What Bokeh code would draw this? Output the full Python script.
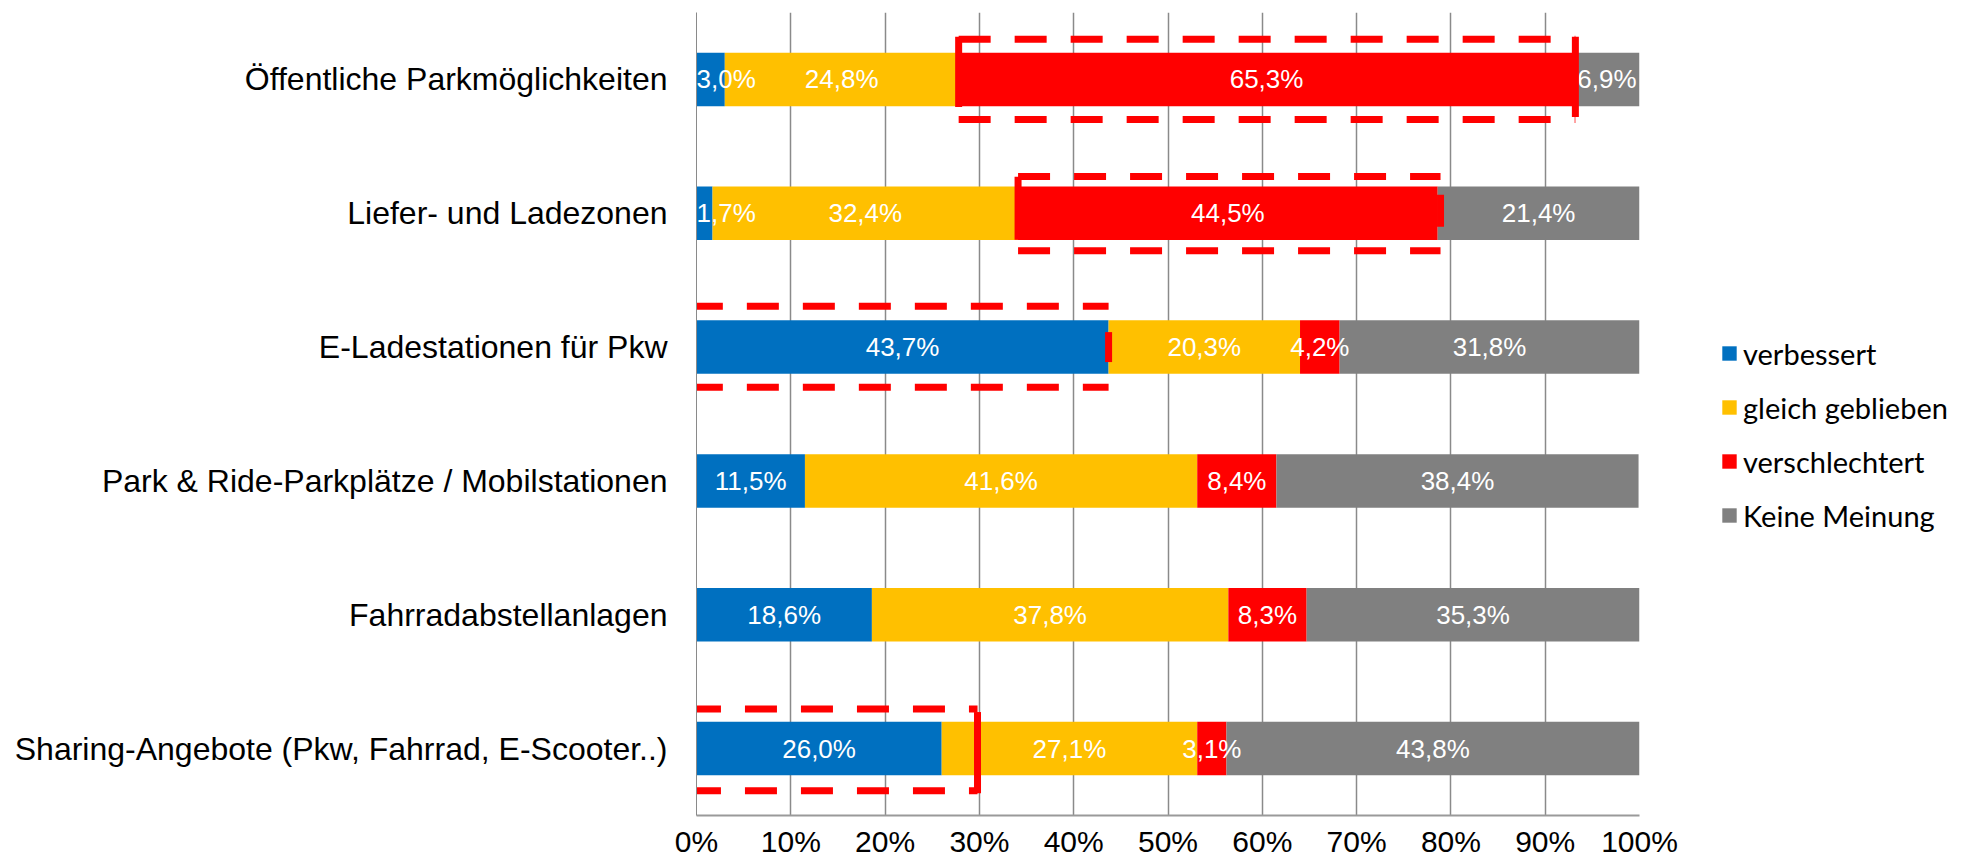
from bokeh.plotting import figure
from bokeh.models import ColumnDataSource, FactorRange, Range1d, Legend, LegendItem, FixedTicker
from bokeh.transform import dodge
from bokeh.core.properties import value
from bokeh.embed import file_html
from bokeh.resources import INLINE

# ---------------- data ----------------
categories = [
    "Öffentliche Parkmöglichkeiten",
    "Liefer- und Ladezonen",
    "E-Ladestationen für Pkw",
    "Park & Ride-Parkplätze / Mobilstationen",
    "Fahrradabstellanlagen",
    "Sharing-Angebote (Pkw, Fahrrad, E-Scooter..)",
]
series_labels = ["verbessert", "gleich geblieben", "verschlechtert", "Keine Meinung"]
verbessert = [3.0, 1.7, 43.7, 11.5, 18.6, 26.0]
gleich_geblieben = [24.8, 32.4, 20.3, 41.6, 37.8, 27.1]
verschlechtert = [65.3, 44.5, 4.2, 8.4, 8.3, 3.1]
keine_meinung = [6.9, 21.4, 31.8, 38.4, 35.3, 43.8]
x_ticks = [0, 10, 20, 30, 40, 50, 60, 70, 80, 90, 100]
x_tick_labels = ["0%", "10%", "20%", "30%", "40%", "50%", "60%", "70%", "80%", "90%", "100%"]

# highlight boxes (annotation): category index, x start, x end
highlight_rows = [0, 1, 2, 5]
highlight_x = [(27.8, 93.2), (34.1, 78.9), (-0.6, 43.7), (-0.8, 29.8)]
highlight_y = [(0.30, -0.30), (0.275, -0.28), (0.305, -0.30), (0.295, -0.315)]
highlight_left_side = [(0.318, -0.206), (0.273, -0.198), (0.067, -0.097), (0.176, -0.333)]
highlight_right_side = [(0.318, -0.28), (0.138, -0.10), (0.112, -0.112), (0.273, -0.333)]

colors = ["#0070C0", "#FFC000", "#FF0000", "#808080"]
keys = ["verbessert", "gleich", "verschlechtert", "keine"]
series_values = [verbessert, gleich_geblieben, verschlechtert, keine_meinung]

src = ColumnDataSource(dict(cat=categories, verbessert=verbessert, gleich=gleich_geblieben,
                            verschlechtert=verschlechtert, keine=keine_meinung))

p = figure(
    y_range=FactorRange(*reversed(categories)),
    x_range=Range1d(0, 100),
    frame_width=943, frame_height=803,
    min_border_left=696, min_border_right=310, min_border_top=12, min_border_bottom=37,
    output_backend="svg", toolbar_location=None,
)
p.outline_line_color = None
p.background_fill_color = "white"

renderers = p.hbar_stack(keys, y="cat", height=0.4, color=colors, line_color=None, source=src)

# ---------- axes ----------
p.xaxis.ticker = FixedTicker(ticks=x_ticks)
p.xaxis.major_label_overrides = {t: l for t, l in zip(x_ticks, x_tick_labels)}
p.xaxis.major_tick_line_color = None
p.xaxis.minor_tick_line_color = None
p.xaxis.axis_line_color = "#9a9a9a"
p.xaxis.axis_line_width = 2
p.xaxis.major_label_text_font = "Liberation Sans"
p.xaxis.major_label_text_font_size = "30px"
p.xaxis.major_label_text_color = "black"
p.xaxis.major_label_standoff = 3

p.yaxis.major_tick_line_color = None
p.yaxis.minor_tick_line_color = None
p.yaxis.axis_line_color = "#8a8a8a"
p.yaxis.major_label_text_font = "Liberation Sans"
p.yaxis.major_label_text_font_size = "32px"
p.yaxis.major_label_text_color = "black"
p.yaxis.major_label_standoff = 23

p.xgrid.grid_line_color = "#8a8a8a"
p.xgrid.grid_line_width = 1.5
p.ygrid.grid_line_color = None

# ---------- data labels ----------
char_w = {"0": .556, "1": .556, "2": .556, "3": .556, "4": .556, "5": .556, "6": .556,
          "7": .556, "8": .556, "9": .556, ",": .278, "%": .889}
font_px = 26
px_per_unit = 943 / 100.0
c_x, c_y, c_t, l_x, l_y, l_t = [], [], [], [], [], []
for i, cat in enumerate(categories):
    left = 0.0
    for vals in series_values:
        v = vals[i]
        txt = ("%.1f%%" % v).replace(".", ",")
        center = left + v / 2.0
        half = sum(char_w.get(ch, .556) for ch in txt) * font_px / 2.0 / px_per_unit
        if center - half < 0:
            l_x.append(0.0); l_y.append(cat); l_t.append(txt)
        else:
            c_x.append(center); c_y.append(cat); c_t.append(txt)
        left += v

p.text(x="x", y="y", text="t", source=ColumnDataSource(dict(x=c_x, y=c_y, t=c_t)),
       text_align="center", text_baseline="middle", text_color="white",
       text_font=value("Liberation Sans"), text_font_size="26px")
p.text(x="x", y="y", text="t", source=ColumnDataSource(dict(x=l_x, y=l_y, t=l_t)),
       text_align="left", text_baseline="middle", text_color="white",
       text_font=value("Liberation Sans"), text_font_size="26px")

# ---------- highlight boxes ----------
for row, (x0, x1), (yt, yb), (ls0, ls1), (rs0, rs1) in zip(
        highlight_rows, highlight_x, highlight_y, highlight_left_side, highlight_right_side):
    cat = categories[row]
    s = ColumnDataSource(dict(cat=[cat], x0=[x0], x1=[x1]))
    for off in (yt, yb):
        p.segment(x0="x0", x1="x1", y0=dodge("cat", off, range=p.y_range),
                  y1=dodge("cat", off, range=p.y_range), source=s,
                  line_color="#FF0000", line_width=7, line_dash="32 24", line_cap="butt")
    for xx, (a, b) in (("x0", (ls0, ls1)), ("x1", (rs0, rs1))):
        p.segment(x0=xx, x1=xx, y0=dodge("cat", a, range=p.y_range),
                  y1=dodge("cat", b, range=p.y_range), source=s,
                  line_color="#FF0000", line_width=7, line_cap="butt")

# ---------- legend ----------
legend = Legend(
    items=[LegendItem(label=lbl, renderers=[r]) for lbl, r in zip(series_labels, renderers)],
    location=(81, 282),
    orientation="vertical",
    border_line_color=None,
    background_fill_alpha=0,
    label_text_font="Lato",
    label_text_font_size="29px",
    label_text_color="black",
    glyph_width=18, glyph_height=18,
    label_standoff=5,
    label_height=36,
    spacing=18,
    padding=0, margin=0,
)
p.add_layout(legend, "right")

open("out.html", "w").write(file_html(p, INLINE))
